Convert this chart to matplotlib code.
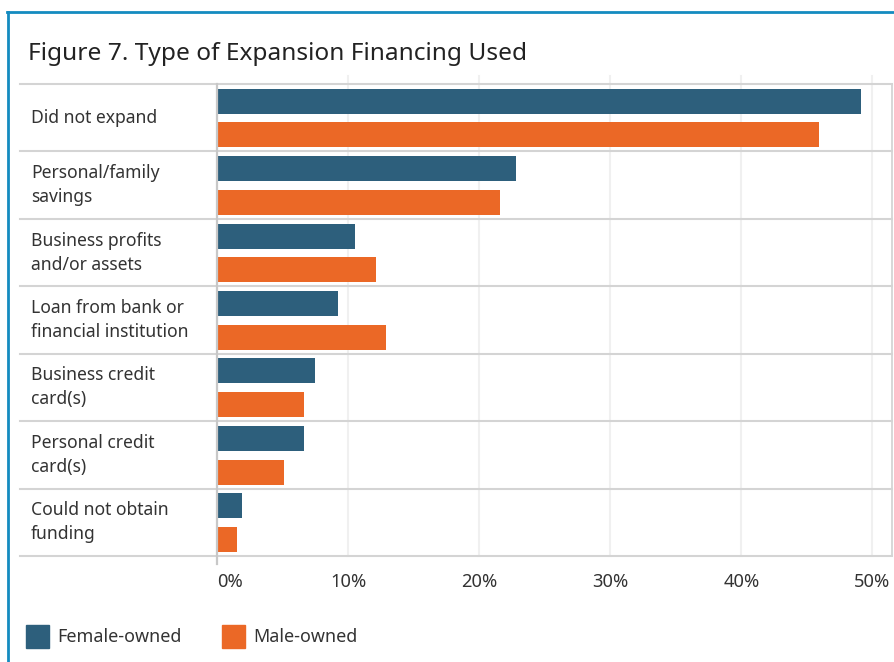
import matplotlib.pyplot as plt
from matplotlib.lines import Line2D
from matplotlib.patches import Rectangle
import numpy as np

plt.rcParams['font.family'] = ['Noto Sans', 'DejaVu Sans']
plt.rcParams['font.weight'] = 'light'

categories = ['Did not expand', 'Personal/family\nsavings', 'Business profits\nand/or assets',
              'Loan from bank or\nfinancial institution', 'Business credit\ncard(s)',
              'Personal credit\ncard(s)', 'Could not obtain\nfunding']
female = [49.1, 22.8, 10.5, 9.2, 7.5, 6.6, 1.9]
male = [45.9, 21.6, 12.1, 12.9, 6.6, 5.1, 1.5]
series = ['Female-owned', 'Male-owned']
colors = ['#2d5f7c', '#eb6826']
xticks = [0, 10, 20, 30, 40, 50]
xticklabels = ['0%', '10%', '20%', '30%', '40%', '50%']

W, H = 894, 662
fig = plt.figure(figsize=(W / 100, H / 100), dpi=100)
ax = fig.add_axes([217 / W, 1 - 556 / H, 675 / W, 472 / H])

rows = np.arange(len(categories))
ax.barh(rows + 0.255, female, height=0.37, color=colors[0], zorder=3)
ax.barh(rows + 0.755, male, height=0.37, color=colors[1], zorder=3)

ax.set_xlim(0, 51.5)
ax.set_ylim(len(categories), 0)
for s in ax.spines.values():
    s.set_visible(False)

ax.set_yticks([])
ax.set_xticks(xticks)
ax.set_xticklabels(xticklabels, fontsize=13.2, color='#333333')
ax.tick_params(axis='x', length=0, pad=12.5)
ax.get_xticklabels()[0].set_ha('left')

# vertical gridlines, a bit past the bottom
for x in xticks[1:]:
    ax.add_line(Line2D([x, x], [0, 1.016], transform=ax.get_xaxis_transform(),
                       color='#f0f0f0', lw=1.5, clip_on=False, zorder=1))
ax.add_line(Line2D([0, 0], [-0.016, 1], transform=ax.get_xaxis_transform(),
                   color='#c8c8c8', lw=1.6, clip_on=False, zorder=4))
ax.add_line(Line2D([51.5, 51.5], [0, 1], transform=ax.get_xaxis_transform(),
                   color='#d4d4d4', lw=1.3, clip_on=False, zorder=4))

# row separators run under the labels too
for y in range(len(categories) + 1):
    ax.add_line(Line2D([-0.292, 1], [y, y], transform=ax.get_yaxis_transform(),
                       color='#d4d4d4', lw=1.5, clip_on=False, zorder=2))

for i, c in enumerate(categories):
    ax.text(-0.2756, i + 0.5, c, transform=ax.get_yaxis_transform(), ha='left', va='center',
            fontsize=12.6, color='#333333', linespacing=1.42)

fig.text(28 / W, 1 - 54 / H, 'Figure 7. Type of Expansion Financing Used', fontsize=17.6,
         color='#222222', ha='left', va='center')

# legend
for name, col, x0 in zip(series, colors, [26, 222]):
    fig.add_artist(Rectangle((x0 / W, 1 - 648 / H), 23 / W, 23 / H,
                             transform=fig.transFigure, color=col))
    fig.text((x0 + 31) / W, 1 - 637 / H, name, fontsize=12.9, color='#333333',
             ha='left', va='center')

# outer frame
fig.add_artist(Line2D([7.5 / W, 7.5 / W], [0, 1 - 11.5 / H], transform=fig.transFigure,
                      color='#148bc0', lw=2.0))
fig.add_artist(Line2D([6.5 / W, 1], [1 - 11.5 / H, 1 - 11.5 / H], transform=fig.transFigure,
                      color='#148bc0', lw=2.0))

plt.savefig('out.png', dpi=100)
